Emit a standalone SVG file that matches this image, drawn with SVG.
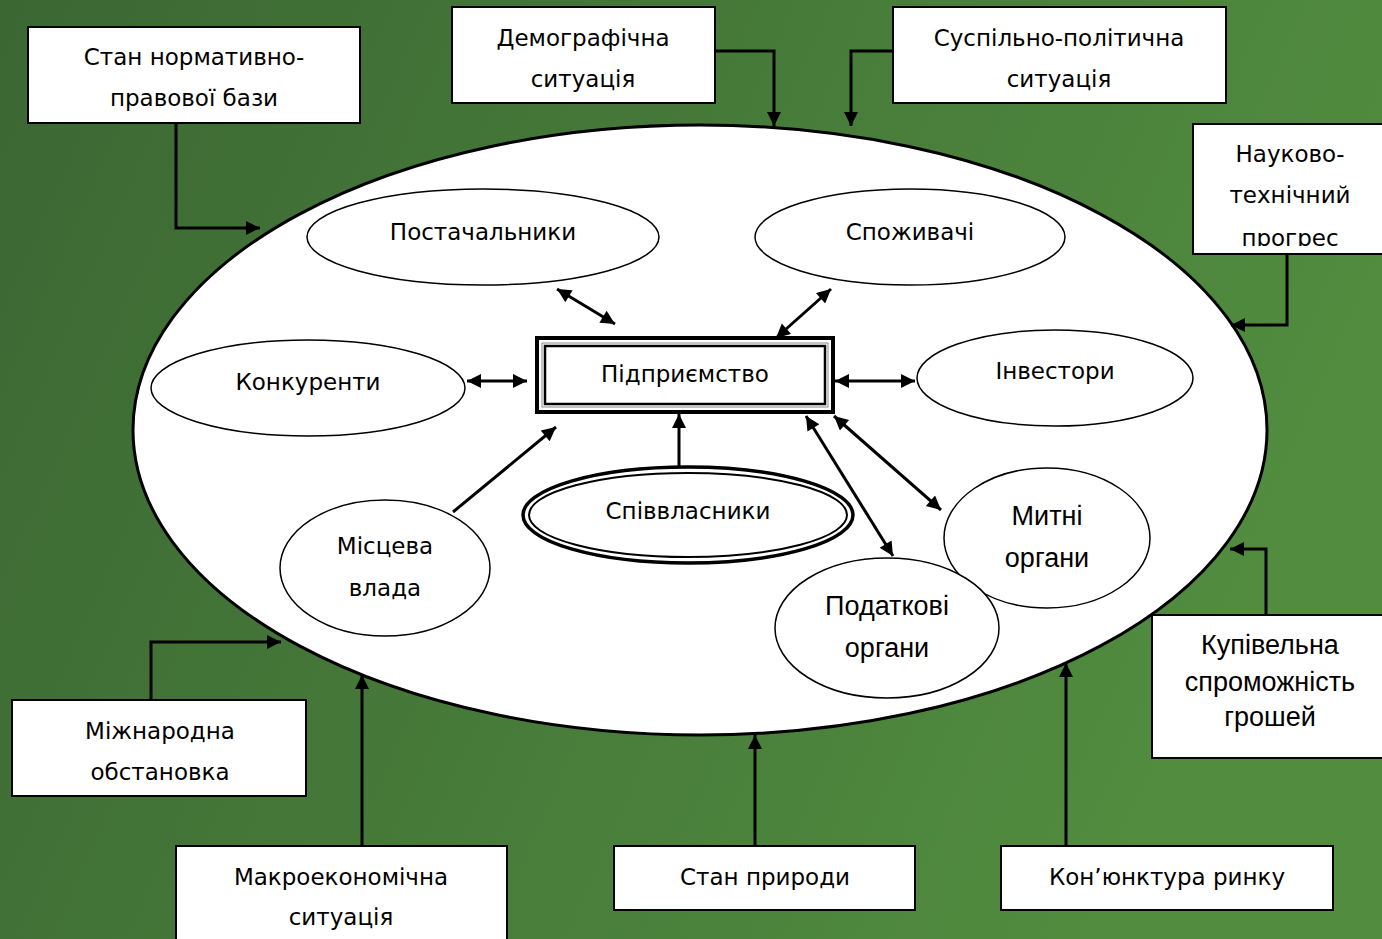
<svg xmlns="http://www.w3.org/2000/svg" width="1382" height="939" viewBox="0 0 1382 939">
<defs>
<linearGradient id="bg" x1="0" y1="0" x2="1" y2="0.3">
<stop offset="0" stop-color="#3b6733"/>
<stop offset="1" stop-color="#518c3f"/>
</linearGradient>
<marker id="ah" viewBox="0 0 10 10" refX="10" refY="5" markerWidth="16" markerHeight="14" markerUnits="userSpaceOnUse" orient="auto-start-reverse">
<path d="M0,0 L10,5 L0,10 z" fill="#000"/>
</marker>
<clipPath id="clipNTP"><rect x="1193" y="124" width="189" height="122"/></clipPath>
</defs>
<style>
.box{fill:#fff;stroke:#000;stroke-width:2}
.ell{fill:#fff;stroke:#000;stroke-width:1.5}
.t{font-family:"DejaVu Sans",sans-serif;font-size:23px;fill:#000;text-anchor:middle}
.c{font-family:"Liberation Sans",sans-serif;font-size:27px;fill:#000;text-anchor:middle}
.ln{fill:none;stroke:#000;stroke-width:3}
.end{marker-end:url(#ah)}
.both{marker-start:url(#ah);marker-end:url(#ah)}
</style>
<rect x="0" y="0" width="1382" height="939" fill="url(#bg)"/>
<g id="environment">
<ellipse cx="700" cy="430" rx="567" ry="305" fill="#fff" stroke="#000" stroke-width="3"/>
</g>
<g id="postachalnyky">
<ellipse class="ell" cx="483" cy="237" rx="176" ry="48"/>
<text class="t" x="483" y="240">Постачальники</text>
</g>
<g id="spozhyvachi">
<ellipse class="ell" cx="910" cy="237" rx="155" ry="48"/>
<text class="t" x="910" y="240">Споживачі</text>
</g>
<g id="konkurenty">
<ellipse class="ell" cx="308" cy="388" rx="157" ry="48"/>
<text class="t" x="308" y="390">Конкуренти</text>
</g>
<g id="investory">
<ellipse class="ell" cx="1055" cy="378" rx="138" ry="48"/>
<text class="t" x="1055" y="379">Інвестори</text>
</g>
<g id="pidpryiemstvo">
<rect x="537" y="338" width="296" height="74" fill="#fff" stroke="#000" stroke-width="4"/>
<rect x="542" y="343" width="286" height="64" fill="none" stroke="#888" stroke-width="1"/>
<rect x="545" y="346" width="280" height="58" fill="none" stroke="#000" stroke-width="2.5"/>
<text class="t" x="685" y="382">Підприємство</text>
</g>
<g id="spivvlasnyky">
<ellipse cx="688" cy="515" rx="165" ry="48" fill="#fff" stroke="#000" stroke-width="3.5"/>
<ellipse cx="688" cy="515" rx="159" ry="42" fill="none" stroke="#000" stroke-width="2"/>
<text class="t" x="688" y="519">Співвласники</text>
</g>
<g id="mistseva-vlada">
<ellipse class="ell" cx="385" cy="568" rx="105" ry="68"/>
<text class="t" x="385" y="554">Місцева</text>
<text class="t" x="385" y="596">влада</text>
</g>
<g id="mytni-orhany">
<ellipse class="ell" cx="1047" cy="538" rx="103" ry="70"/>
<text class="c" x="1047" y="525">Митні</text>
<text class="c" x="1047" y="567">органи</text>
</g>
<g id="podatkovi-orhany">
<ellipse class="ell" cx="887" cy="628" rx="112" ry="70" fill="none"/>
<text class="c" x="887" y="615">Податкові</text>
<text class="c" x="887" y="657">органи</text>
</g>
<g id="stan-normatyvno">
<rect class="box" x="28" y="27" width="332" height="96"/>
<text class="t" x="194" y="65">Стан нормативно-</text>
<text class="t" x="194" y="106">правової бази</text>
</g>
<g id="demohrafichna">
<rect class="box" x="452" y="7" width="263" height="96"/>
<text class="t" x="583" y="46">Демографічна</text>
<text class="t" x="583" y="87">ситуація</text>
</g>
<g id="suspilno-politychna">
<rect class="box" x="893" y="7" width="333" height="96"/>
<text class="t" x="1059" y="46">Суспільно-політична</text>
<text class="t" x="1059" y="87">ситуація</text>
</g>
<g id="naukovo-tekhnichnyi">
<rect class="box" x="1193" y="124" width="195" height="130"/>
<g clip-path="url(#clipNTP)">
<text class="t" x="1290" y="162">Науково-</text>
<text class="t" x="1290" y="203">технічний</text>
<text class="t" x="1290" y="246">прогрес</text>
</g>
</g>
<g id="kupivelna">
<rect class="box" x="1152" y="615" width="236" height="143"/>
<text class="c" x="1270" y="654">Купівельна</text>
<text class="c" x="1270" y="691">спроможність</text>
<text class="c" x="1270" y="726">грошей</text>
</g>
<g id="koniunktura">
<rect class="box" x="1001" y="846" width="332" height="64"/>
<text class="t" x="1167" y="885">Кон’юнктура ринку</text>
</g>
<g id="stan-pryrody">
<rect class="box" x="614" y="846" width="301" height="64"/>
<text class="t" x="765" y="885">Стан природи</text>
</g>
<g id="makroekonomichna">
<rect class="box" x="176" y="846" width="331" height="100"/>
<text class="t" x="341" y="885">Макроекономічна</text>
<text class="t" x="341" y="925">ситуація</text>
</g>
<g id="mizhnarodna">
<rect class="box" x="12" y="700" width="294" height="96"/>
<text class="t" x="160" y="739">Міжнародна</text>
<text class="t" x="160" y="780">обстановка</text>
</g>
<g id="connectors">
<polyline class="ln end" points="176,123 176,228 260,228"/>
<polyline class="ln end" points="715,51 774,51 774,126"/>
<polyline class="ln end" points="893,51 851,51 851,126"/>
<polyline class="ln end" points="1287,254 1287,325 1231,325"/>
<polyline class="ln end" points="1266,615 1266,549 1230,549"/>
<polyline class="ln end" points="1066,846 1066,663"/>
<polyline class="ln end" points="755,846 755,735"/>
<polyline class="ln end" points="362,846 362,675"/>
<polyline class="ln end" points="151,700 151,642 281,642"/>
<line class="ln both" x1="557" y1="289" x2="615" y2="324"/>
<line class="ln both" x1="831" y1="289" x2="776" y2="338"/>
<line class="ln both" x1="467" y1="381" x2="527" y2="381"/>
<line class="ln both" x1="835" y1="381" x2="915" y2="381"/>
<line class="ln end" x1="453" y1="512" x2="556" y2="427"/>
<line class="ln end" x1="679" y1="467" x2="679" y2="414"/>
<line class="ln both" x1="806" y1="416" x2="893" y2="556"/>
<line class="ln both" x1="834" y1="416" x2="941" y2="510"/>
</g>
</svg>
